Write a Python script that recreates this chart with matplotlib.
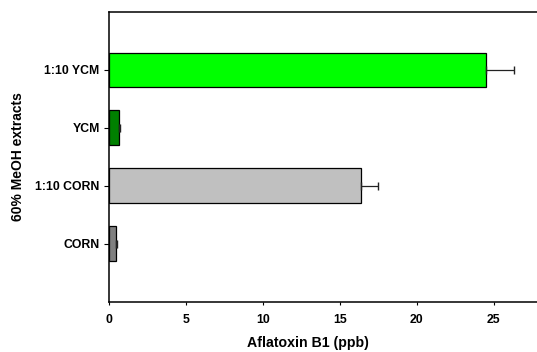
import matplotlib
matplotlib.use("Agg")
import matplotlib.pyplot as plt

# Aflatoxin B1 in 60% methanol extracts
categories = ["CORN", "1:10 CORN", "YCM", "1:10 YCM"]
aflatoxin_ppb = [0.43, 16.36, 0.63, 24.53]
error_ppb = [0.06, 1.13, 0.10, 1.80]
bar_colors = ["#808080", "#c0c0c0", "#008000", "#00ff00"]
x_ticks = [0, 5, 10, 15, 20, 25]

plt.rcParams["font.family"] = ["Liberation Sans", "DejaVu Sans"]
plt.rcParams["font.weight"] = "bold"

fig = plt.figure(figsize=(5.37, 3.52), dpi=100)
ax = fig.add_axes([109 / 537, 1 - 301.5 / 352, 1 - 109 / 537, (301.5 - 12) / 352])

positions = list(range(len(categories)))
ax.barh(positions, aflatoxin_ppb, height=0.6, color=bar_colors,
        edgecolor="black", linewidth=0.9, zorder=2)
ax.errorbar(aflatoxin_ppb, positions, xerr=[[0] * len(error_ppb), error_ppb],
            fmt="none", ecolor="#222222", elinewidth=0.9, capsize=2.8,
            capthick=1.0, zorder=3)

ax.set_xlim(0, 428 / 15.38)
ax.set_ylim(-1, 4)
ax.set_yticks(positions)
ax.set_yticklabels(categories, fontsize=8.8, fontweight="bold")
ax.set_xticks(x_ticks)
ax.set_xticklabels([str(t) for t in x_ticks], fontsize=8.8, fontweight="bold")

ax.tick_params(axis="y", direction="out", length=3.3, width=0.8, pad=3.4)
ax.tick_params(axis="x", direction="out", length=2.4, width=0.8, pad=6.5)

for side in ["left", "bottom", "top"]:
    ax.spines[side].set_linewidth(1.1)
ax.spines["right"].set_visible(False)

ax.set_xlabel("Aflatoxin B1 (ppb)", fontsize=10.2, fontweight="bold")
ax.set_ylabel("60% MeOH extracts", fontsize=10, fontweight="bold")
ax.xaxis.set_label_coords((307.5 - 109) / 428, -(343.5 - 301.5) / 289.5)
ax.yaxis.set_label_coords(-(109 - 18) / 428, 0.5)
ax.xaxis.label.set_va("center")
ax.yaxis.label.set_va("center")

fig.savefig("out.png", dpi=100)
